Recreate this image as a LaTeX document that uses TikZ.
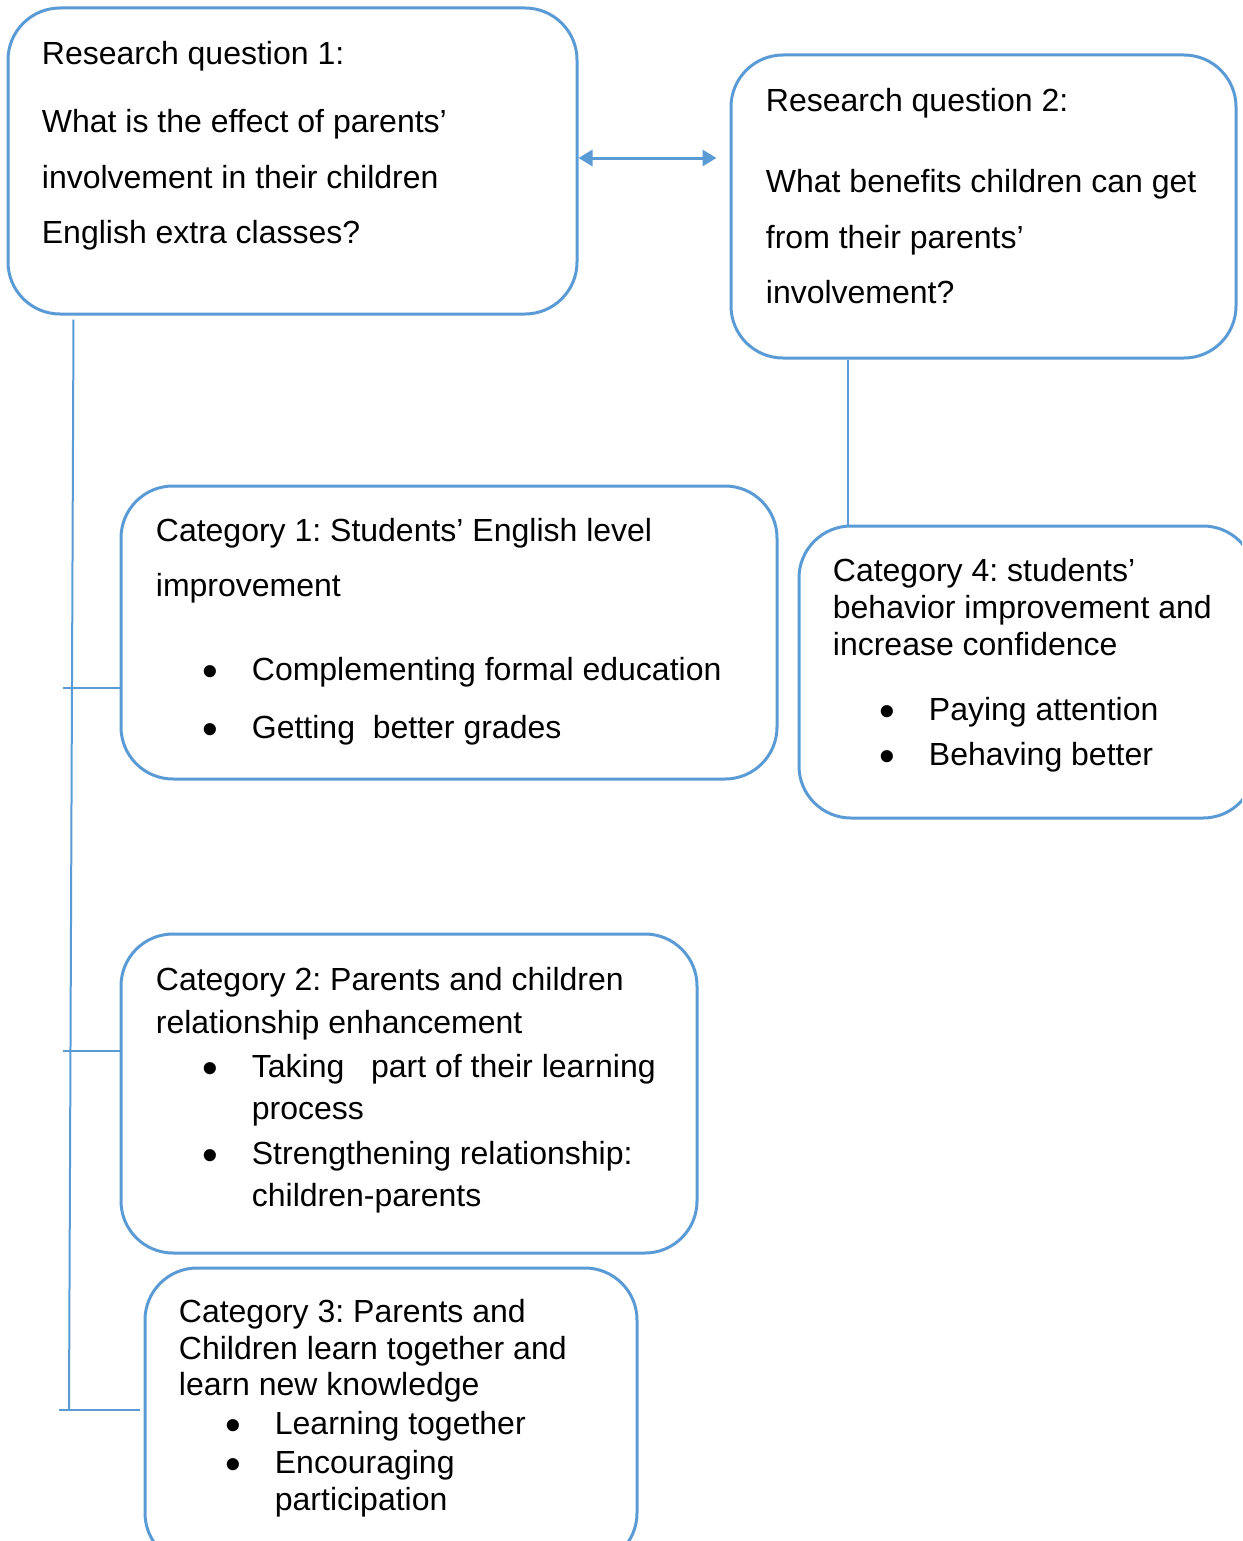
\documentclass[tikz,border=0pt]{standalone}
\usepackage{fontspec}
\setmainfont{Liberation Sans}
\usetikzlibrary{arrows.meta, positioning, calc, fit}
\definecolor{rq-blue}{HTML}{5B9BD5}
\newcommand{\bul}{\hspace*{23.5pt}\makebox[24.5pt][l]{\raisebox{-3.4pt}[0pt][0pt]{\scalebox{1.4}{\textbullet}}}}
\newcommand{\hang}{\hspace*{48pt}}
\frenchspacing

\begin{document}
\begin{tikzpicture}[x=0.5pt, y=-0.5pt,
    box/.style={draw=rq-blue, line width=1.5pt, rounded corners=26pt, inner sep=0pt},
    txt/.style={anchor=north west, inner sep=0pt, align=left, font=\fontsize{16}{18.5}\selectfont},
    link/.style={draw=rq-blue, line width=1pt},
    dbl/.style={draw=rq-blue, line width=1.5pt, {Triangle[length=7pt,width=8pt]}-{Triangle[length=7pt,width=8pt]}}
]
    \clip (0,0) rectangle (1242,1541);

    % research questions
    \node (rq1) [box, fit={(8,8) (577,314)}] {};
    \node (rq2) [box, fit={(731,55) (1236,358)}] {};

    % categories
    \node (cat1) [box, fit={(121,486) (777,779)}] {};
    \node (cat4) [box, fit={(799,526) (1255,818)}] {};
    \node (cat2) [box, fit={(121,934) (697,1253)}] {};
    \node (cat3) [box, fit={(145,1268) (637,1565)}] {};

    \node (rq1txt) [txt] at ($(rq1.north west)+(35,34)$) {Research question 1:\\[15.5pt]
        What is the effect of parents’\\[9.5pt]
        involvement in their children\\[9pt]
        English extra classes?};
    \node (rq2txt) [txt] at ($(rq2.north west)+(36,34)$) {Research question 2:\\[22pt]
        What benefits children can get\\[9.5pt]
        from their parents’\\[9pt]
        involvement?};
    \node (cat1txt) [txt] at ($(cat1.north west)+(36,33)$) {Category 1: Students’ English level\\[9pt]
        improvement\\[23.5pt]
        \bul Complementing formal education\\[10.5pt]
        \bul Getting\ \ better grades};
    \node (cat4txt) [txt] at ($(cat4.north west)+(35,33)$) {Category 4: students’\\
        behavior improvement and\\
        increase confidence\\[14pt]
        \bul Paying attention\\[4pt]
        \bul Behaving better};
    \node (cat2txt) [txt] at ($(cat2.north west)+(36,34)$) {Category 2: Parents and children\\[3pt]
        relationship enhancement\\[3.5pt]
        \bul Taking\ \ \ part of their learning\\[2.5pt]
        \hang process\\[4pt]
        \bul Strengthening relationship:\\[2.5pt]
        \hang children-parents};
    \node (cat3txt) [txt] at ($(cat3.north west)+(35,32)$) {Category 3: Parents and\\
        Children learn together and\\[-0.5pt]
        learn new knowledge\\[1pt]
        \bul Learning together\\[1pt]
        \bul Encouraging\\
        \hang participation};

    % connectors
    \coordinate (tick1) at (63,688);
    \coordinate (tick2) at (63,1051);
    \coordinate (tick3) at (59,1410);
    \coordinate (trunkend) at (69,1410);

    \draw [dbl, shorten >=6.5pt] ([yshift=1.5pt]rq1.east) -- ([yshift=1.5pt]rq1.east -| rq2.west);
    \draw [link] ($(rq1.south west)+(67,4)$) -- (trunkend);
    \draw [link] (tick1) -- (tick1 -| cat1.west);
    \draw [link] (tick2) -- (tick2 -| cat2.west);
    \draw [link, shorten >=2pt] (tick3) -- (tick3 -| cat3.west);
    \draw [link] ($(rq2.south west)+(118,0)$) -- ($(cat4.north west)+(50,0)$);
\end{tikzpicture}
\end{document}
